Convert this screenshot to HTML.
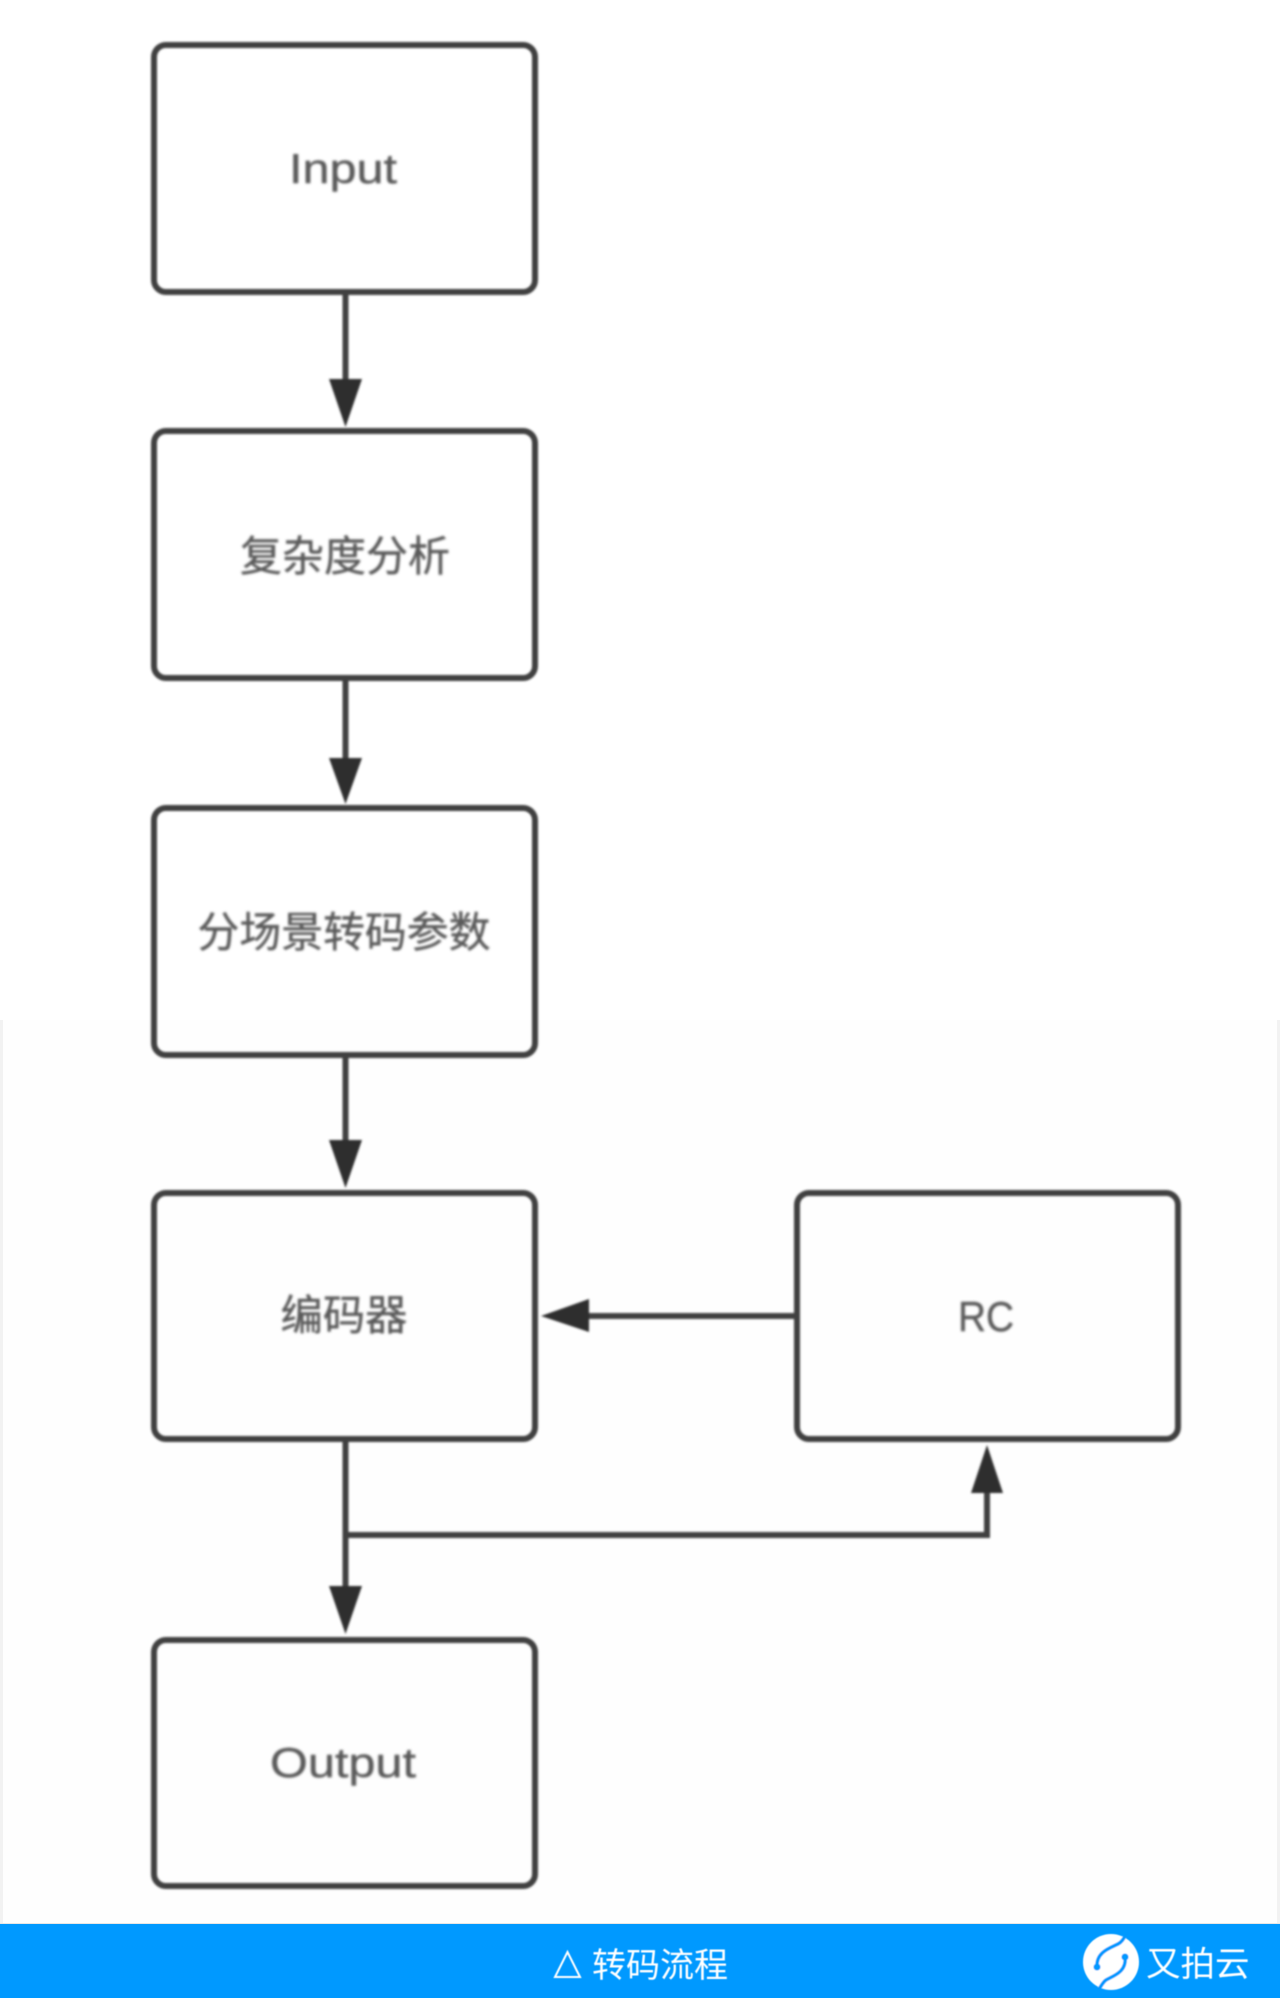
<!DOCTYPE html>
<html><head><meta charset="utf-8"><style>
html,body{margin:0;padding:0;background:#fff;width:1280px;height:1998px;overflow:hidden}
svg{display:block}
</style></head><body>
<svg width="1280" height="1998" viewBox="0 0 1280 1998" xmlns="http://www.w3.org/2000/svg">
<defs>
<filter id="b" x="-5%" y="-5%" width="110%" height="110%"><feGaussianBlur stdDeviation="1"/></filter>
<filter id="t" x="-5%" y="-5%" width="110%" height="110%"><feGaussianBlur stdDeviation="1.2"/></filter>
<filter id="f" x="-5%" y="-5%" width="110%" height="110%"><feGaussianBlur stdDeviation="0.4"/></filter>
</defs>
<rect width="1280" height="1998" fill="#fff"/>
<rect x="0" y="1020" width="1280" height="904" fill="#fefefe"/>
<rect x="0" y="1020" width="3" height="904" fill="#f2f2f2"/>
<rect x="1277" y="1020" width="3" height="904" fill="#f2f2f2"/>
<g filter="url(#b)">
<g fill="none" stroke="#404040" stroke-width="6">
<rect x="154" y="45" width="381" height="247" rx="12"/>
<rect x="154" y="431" width="381" height="247" rx="12"/>
<rect x="154" y="808" width="381" height="247" rx="12"/>
<rect x="154" y="1193" width="381" height="246" rx="12"/>
<rect x="797" y="1193" width="381" height="246" rx="12"/>
<rect x="154" y="1640" width="381" height="246" rx="12"/>
<path d="M345.500 292V385M345.500 678V762M345.500 1055V1150M345.500 1439V1590M345.500 1535H987V1490M797 1316H585"/>
</g>
<g fill="#2e2e2e">
<path d="M329 379H362L345.500 427Z"/>
<path d="M329 758H362L345.500 804Z"/>
<path d="M329 1140H362L345.500 1188Z"/>
<path d="M329 1586H362L345.500 1634Z"/>
<path d="M589 1299V1332L541 1316Z"/>
<path d="M971 1493H1003L987 1445Z"/>
</g>
</g>
<g filter="url(#t)" fill="#5a5a5a" stroke="#5a5a5a" stroke-width="0.4" font-size="42" font-family="'Liberation Sans','Noto Sans CJK SC',sans-serif" text-anchor="middle">
<text x="343" y="183" textLength="108" lengthAdjust="spacingAndGlyphs">Input</text>
<text x="345" y="571" textLength="210" lengthAdjust="spacingAndGlyphs">复杂度分析</text>
<text x="344" y="947" textLength="293" lengthAdjust="spacingAndGlyphs">分场景转码参数</text>
<text x="344" y="1330" textLength="127" lengthAdjust="spacingAndGlyphs">编码器</text>
<text x="986" y="1331" textLength="56" lengthAdjust="spacingAndGlyphs">RC</text>
<text x="343" y="1777" textLength="146" lengthAdjust="spacingAndGlyphs">Output</text>
</g>
<rect x="0" y="1923" width="1280" height="2" fill="#e6e6e6"/>
<rect x="0" y="1924" width="1280" height="74" fill="#0099ff"/>
<g filter="url(#f)">
<path d="M555 1977H580L567.500 1952Z" fill="none" stroke="#fff" stroke-width="2"/>
<text x="592" y="1977" font-size="34" fill="#fff" font-family="'Liberation Sans','Noto Sans CJK SC',sans-serif">转码流程</text>
<circle cx="1111" cy="1962" r="28" fill="#fff"/>
<path d="M1097 1967C1096 1952 1110 1948 1118 1944C1122 1942 1124 1938 1127 1933M1125 1957C1127 1972 1113 1976 1106 1980C1103 1982 1101 1986 1098 1991" stroke="#0099ff" stroke-width="3.500" fill="none"/>
<circle cx="1097" cy="1967" r="3.500" fill="#0099ff"/>
<circle cx="1125" cy="1957" r="3.500" fill="#0099ff"/>
<text x="1146" y="1976" font-size="34.500" fill="#fff" font-family="'Noto Sans CJK SC',sans-serif">又拍云</text>
</g>
</svg>
</body></html>
